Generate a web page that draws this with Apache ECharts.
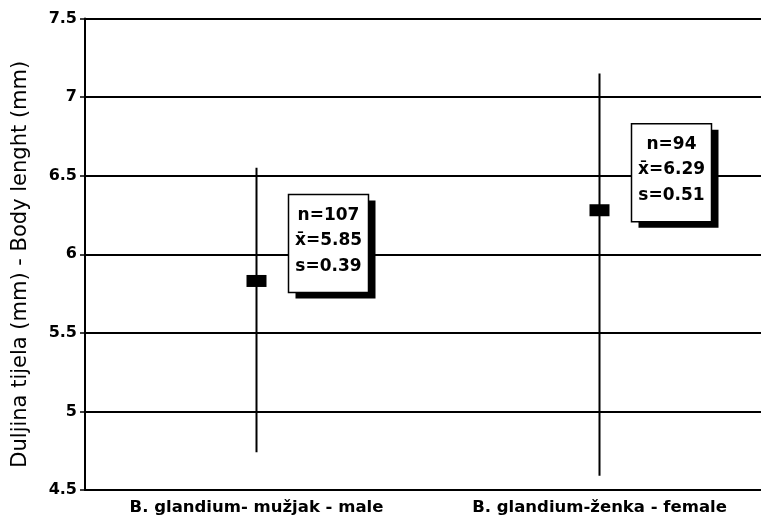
<!DOCTYPE html>
<html>
<head>
<meta charset="utf-8" />
<title>Duljina tijela</title>
<script src="https://cdn.jsdelivr.net/npm/echarts@6/dist/echarts.min.js"></script>
<style>
  html, body { margin: 0; padding: 0; background: #fff; }
  #main { width: 761px; height: 521px; }
</style>
</head>
<body>
<div id="main"></div>
<script>
// kategorije (x os)
var categories = ['B. glandium- mužjak - male', 'B. glandium-ženka - female'];
// min / max / prosjek (kako je nacrtano)
var lowValues = [4.74, 4.59];
var highValues = [6.55, 7.15];
var meanValues = [5.83, 6.28];
// tekst u kućicama
var nLabels = ['n=107', 'n=94'];
var meanLabels = ['x\u0304=5.85', 'x\u0304=6.29'];
var sdLabels = ['s=0.39', 's=0.51'];
// gornji rub kućice (u jedinicama y osi)
var boxTop = [6.38, 6.83];
// y os
var yMin = 4.5, yMax = 7.5, yStep = 0.5;

var barData = categories.map(function (c, i) {
  return [i, lowValues[i], highValues[i], meanValues[i]];
});
var boxData = categories.map(function (c, i) {
  return [i, boxTop[i], nLabels[i], meanLabels[i], sdLabels[i]];
});

var myChart = echarts.init(document.getElementById('main'));
var font = '"DejaVu Sans", Verdana, sans-serif';

myChart.setOption({
  animation: false,
  // os ide malo preko desnog ruba slike
  grid: { left: 85, width: 686, top: 18.5, bottom: 31, containLabel: false, outerBoundsMode: 'none' },
  xAxis: {
    type: 'category',
    data: categories,
    boundaryGap: true,
    axisLine: { lineStyle: { color: '#000', width: 2 } },
    axisTick: { alignWithLabel: true, length: 5, lineStyle: { color: '#000', width: 1.5 } },
    axisLabel: { interval: 0, color: '#000', fontFamily: font, fontWeight: 'bold', fontSize: 16.5, margin: 9 },
    splitLine: { show: false }
  },
  yAxis: {
    type: 'value',
    min: yMin,
    max: yMax,
    interval: yStep,
    name: 'Duljina tijela (mm) - Body lenght (mm)',
    nameLocation: 'middle',
    nameGap: 54,
    nameTextStyle: { color: '#000', fontFamily: font, fontSize: 21, padding: [0, 20, 0, 0] },
    axisLine: { show: true, lineStyle: { color: '#000', width: 2 } },
    axisTick: { show: true, length: 5, lineStyle: { color: '#000', width: 1.5 } },
    axisLabel: {
      color: '#000', fontFamily: font, fontWeight: 'bold', fontSize: 16, margin: 8,
      formatter: function (v) { return String(v); }
    },
    splitLine: { show: true, lineStyle: { color: '#000', width: 2 } }
  },
  series: [
    {
      // vertikalne linije + kvadrat za prosjek
      type: 'custom',
      data: barData,
      renderItem: function (params, api) {
        var x = api.value(0);
        var top = api.coord([x, api.value(2)]);
        var bot = api.coord([x, api.value(1)]);
        var mid = api.coord([x, api.value(3)]);
        return {
          type: 'group',
          children: [
            {
              type: 'line',
              shape: { x1: top[0], y1: top[1], x2: bot[0], y2: bot[1] },
              style: { stroke: '#000', lineWidth: 2 }
            },
            {
              type: 'rect',
              shape: { x: mid[0] - 10, y: mid[1] - 6, width: 20, height: 12 },
              style: { fill: '#000' }
            }
          ]
        };
      },
      z: 3
    },
    {
      // kućice s n, prosjekom i s
      type: 'custom',
      data: boxData,
      renderItem: function (params, api) {
        var p = api.coord([api.value(0), api.value(1)]);
        var bx = p[0] + 32, by = p[1];
        var w = 80, h = 98;
        var lines = [api.value(2), api.value(3), api.value(4)];
        var kids = [
          { type: 'rect', shape: { x: bx + 7, y: by + 6, width: w, height: h }, style: { fill: '#000' } },
          { type: 'rect', shape: { x: bx, y: by, width: w, height: h }, style: { fill: '#fff', stroke: '#000', lineWidth: 1.5 } }
        ];
        var offs = [21, 46, 72];
        for (var i = 0; i < lines.length; i++) {
          kids.push({
            type: 'text',
            style: {
              x: bx + w / 2, y: by + offs[i],
              text: lines[i],
              fill: '#000',
              font: 'bold 17px ' + font,
              textAlign: 'center',
              textVerticalAlign: 'middle'
            }
          });
        }
        return { type: 'group', children: kids };
      },
      z: 4
    }
  ]
});
</script>
</body>
</html>
